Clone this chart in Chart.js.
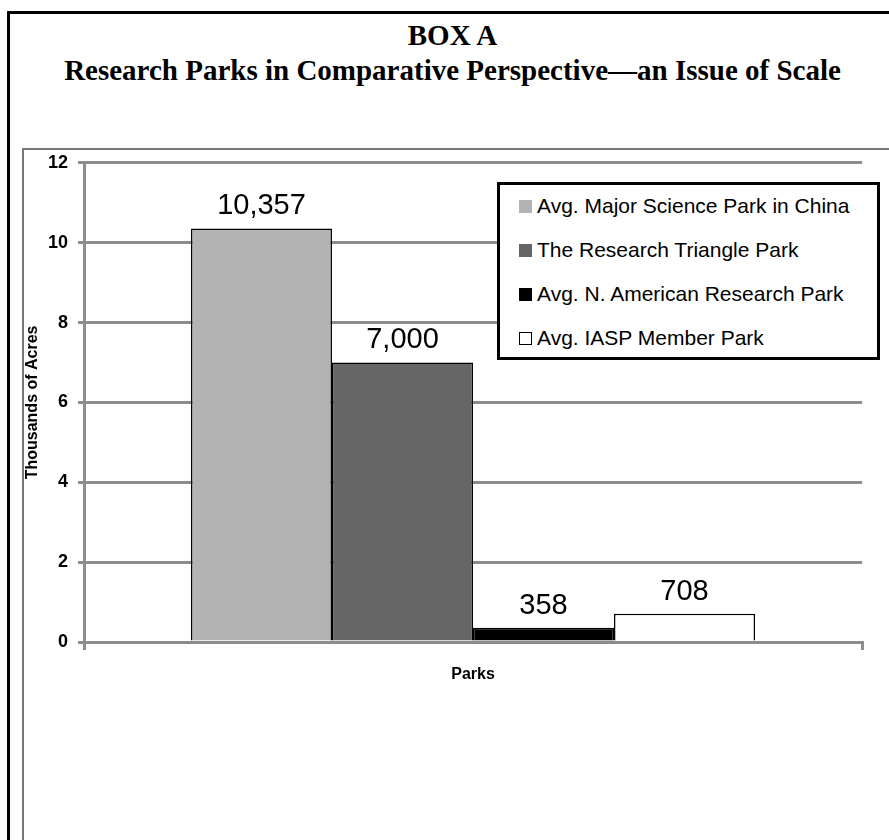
<!DOCTYPE html>
<html>
<head>
  <title>Research Parks in Comparative Perspective</title>
  <script src="https://cdn.jsdelivr.net/npm/chart.js"></script>
  <style>
    body {
      margin: 0;
      padding: 0;
      width: 889px;
      height: 840px;
      overflow: hidden;
      background: #fff;
      position: relative;
      font-family: 'Liberation Sans', Arial, sans-serif;
    }

    .outer {
      position: absolute;
      left: 7px;
      top: 11px;
      width: 1000px;
      height: 1000px;
      border: 3px solid #000;
    }

    .frame {
      position: absolute;
      left: 22px;
      top: 148px;
      width: 1000px;
      height: 1000px;
      border: 2px solid #777;
    }

    .heading {
      position: absolute;
      left: 8px;
      width: 889px;
      text-align: center;
      font-family: 'Liberation Serif', 'Times New Roman', serif;
      font-weight: bold;
      font-size: 29px;
      color: #000;
      line-height: 1;
    }

    #chart {
      position: absolute;
      left: 0;
      top: 142px;
    }

    #legend {
      position: absolute;
      left: 497px;
      top: 182px;
      width: 377px;
      height: 172px;
      border: 3px solid #000;
      background: #fff;
      box-sizing: content-box;
    }

    .legend-item {
      position: absolute;
      left: 19px;
      height: 24px;
      display: flex;
      align-items: center;
      font-size: 21px;
      color: #000;
      white-space: nowrap;
    }

    .legend-swatch {
      width: 13px;
      height: 13px;
      margin-right: 5px;
      box-sizing: border-box;
    }
  </style>
</head>
<body>
  <div class="outer"></div>
  <div class="frame"></div>
  <div class="heading" style="top: 21px;">BOX A</div>
  <div class="heading" style="top: 56px;">Research Parks in Comparative Perspective—an Issue of Scale</div>

  <canvas id="chart" width="889" height="698"></canvas>
  <div id="legend"></div>

  <script>
    // data, in thousands of acres
    const categories = [''];
    const seriesNames = [
      'Avg. Major Science Park in China',
      'The Research Triangle Park',
      'Avg. N. American Research Park',
      'Avg. IASP Member Park'
    ];
    const seriesValues = [10.357, 7.0, 0.358, 0.708];
    const seriesColors = ['#b3b3b3', '#666666', '#000000', '#ffffff'];
    const yTicks = [0, 2, 4, 6, 8, 10, 12];

    const gridGray = '#8c8c8c';

    // value labels above each bar, e.g. 10.357 -> "10,357"
    const valueLabels = {
      id: 'valueLabels',
      afterDatasetsDraw(chart) {
        const ctx = chart.ctx;
        ctx.save();
        ctx.font = '29px "Liberation Sans", Arial, sans-serif';
        ctx.fillStyle = '#000';
        ctx.textAlign = 'center';
        ctx.textBaseline = 'alphabetic';
        chart.data.datasets.forEach((ds, i) => {
          const meta = chart.getDatasetMeta(i);
          meta.data.forEach((bar, j) => {
            const txt = Math.round(ds.data[j] * 1000).toLocaleString('en-US');
            ctx.fillText(txt, bar.x, bar.y - 14);
          });
        });
        ctx.restore();
      }
    };

    const ctx = document.getElementById('chart').getContext('2d');
    const chart = new Chart(ctx, {
      type: 'bar',
      data: {
        labels: categories,
        datasets: seriesNames.map((name, i) => ({
          label: name,
          data: [seriesValues[i]],
          backgroundColor: seriesColors[i],
          borderColor: '#000',
          borderWidth: 1.5,
          categoryPercentage: 0.725,
          barPercentage: 1
        }))
      },
      options: {
        responsive: false,
        animation: false,
        layout: {
          padding: { left: 0, right: 27, top: 4, bottom: 148 }
        },
        plugins: {
          legend: { display: false },
          tooltip: { enabled: false }
        },
        scales: {
          x: {
            afterFit: s => { s.height = 50; },
            grid: {
              display: true,
              drawOnChartArea: false,
              drawTicks: true,
              tickLength: 8,
              color: gridGray,
              lineWidth: 3
            },
            border: { display: true, color: gridGray, width: 3 },
            ticks: { display: false },
            title: {
              display: true,
              text: 'Parks',
              color: '#000',
              font: { family: '"Liberation Sans", Arial, sans-serif', size: 16, weight: 'bold' },
              padding: { top: 0, bottom: 8 }
            }
          },
          y: {
            min: 0,
            max: 12,
            afterFit: s => { s.width = 84; },
            afterBuildTicks: s => { s.ticks = yTicks.map(v => ({ value: v })); },
            grid: {
              color: gridGray,
              lineWidth: 3,
              tickLength: 6
            },
            border: { display: true, color: gridGray, width: 3 },
            ticks: {
              color: '#000',
              padding: 10,
              font: { family: '"Liberation Sans", Arial, sans-serif', size: 18, weight: 'bold' }
            },
            title: {
              display: true,
              text: 'Thousands of Acres',
              color: '#000',
              font: { family: '"Liberation Sans", Arial, sans-serif', size: 16, weight: 'bold' },
              padding: { top: 23, bottom: 0 }
            }
          }
        }
      },
      plugins: [valueLabels]
    });

    // legend built from the chart's own legend items
    const legendBox = document.getElementById('legend');
    const items = Chart.defaults.plugins.legend.labels.generateLabels(chart);
    items.forEach((item, i) => {
      const row = document.createElement('div');
      row.className = 'legend-item';
      row.style.top = (9 + i * 44) + 'px';
      const sw = document.createElement('span');
      sw.className = 'legend-swatch';
      sw.style.background = item.fillStyle;
      sw.style.border = item.fillStyle === '#ffffff' ? '1px solid #000' : 'none';
      row.appendChild(sw);
      row.appendChild(document.createTextNode(item.text));
      legendBox.appendChild(row);
    });
  </script>
</body>
</html>
